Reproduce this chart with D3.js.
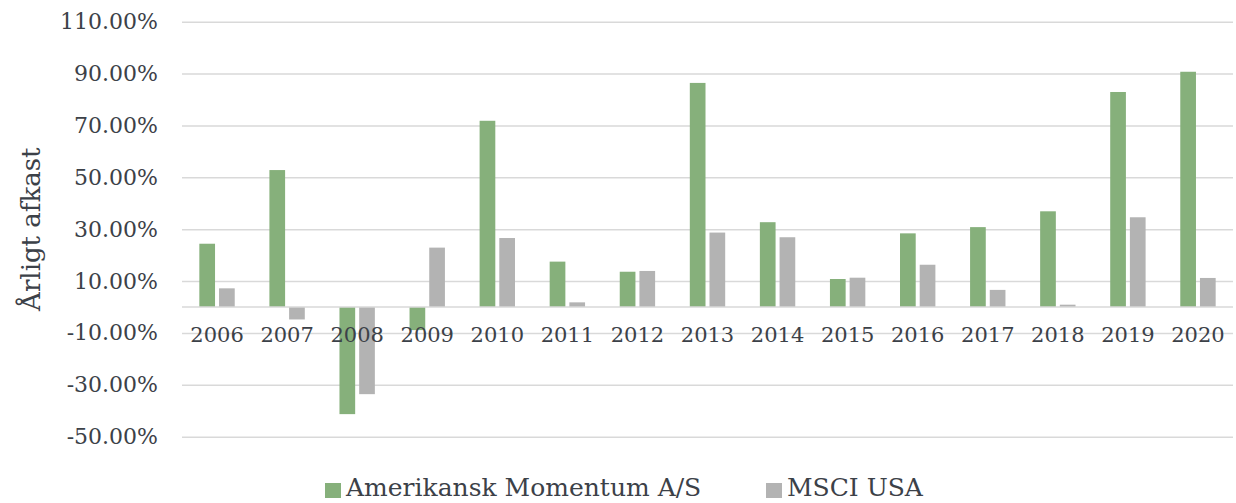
<!DOCTYPE html>
<html><head><meta charset="utf-8">
<script src="https://cdn.jsdelivr.net/npm/d3@7"></script>
<style>body{margin:0;background:#fff}</style>
</head><body>
<svg id="c" width="1236" height="503"></svg>
<script>
const years = ["2006","2007","2008","2009","2010","2011","2012","2013","2014","2015","2016","2017","2018","2019","2020"];
const momentum = [24.4,52.8,-41.3,-8.9,71.8,17.5,13.6,86.4,32.7,10.8,28.4,30.8,36.9,82.9,90.7];
const msci = [7.2,-4.8,-33.6,22.9,26.6,1.8,13.9,28.7,26.9,11.3,16.3,6.6,0.9,34.6,11.2];
const yTicks = [-50,-30,-10,10,30,50,70,90,110];
const seriesNames = ["Amerikansk Momentum A/S","MSCI USA"];
const colors = ["#86b07b","#b3b3b3"];

const font = "DejaVu Serif";
const textColor = "#3c4148";
const svg = d3.select("#c");
const L = 182, R = 1233, T = 21.7, B = 436.7;
const x = d3.scaleBand().domain(years).range([L, R]).paddingInner(0).paddingOuter(0);
const y = d3.scaleLinear().domain([-50,110]).range([B, T]);

// gridlines
const yAxis = d3.axisLeft(y).tickValues(yTicks).tickSize(-(R-L)).tickFormat(d => d.toFixed(2) + "%").tickPadding(24);
const gy = svg.append("g").attr("transform", `translate(${L},0)`).call(yAxis);
gy.select(".domain").remove();
gy.selectAll(".tick line").attr("stroke", "#d9d9d9").attr("stroke-width", 1.5);
gy.selectAll(".tick text").attr("font-family", font).attr("font-size", 22).attr("fill", textColor);

// bars
const bw = x.bandwidth() * 0.224, gap = x.bandwidth() * 0.057;
const data = [momentum, msci];
data.forEach((vals, si) => {
  svg.append("g").selectAll("rect").data(vals).join("rect")
    .attr("x", (d, i) => x(years[i]) + x.bandwidth()/2 + (si === 0 ? -gap/2 - bw : gap/2))
    .attr("width", bw)
    .attr("y", d => y(Math.max(0, d)))
    .attr("height", d => Math.abs(y(d) - y(0)))
    .attr("fill", colors[si]);
});

// zero axis line
svg.append("line").attr("x1", L).attr("x2", R).attr("y1", y(0)).attr("y2", y(0))
  .attr("stroke", "#d9d9d9").attr("stroke-width", 1.5);

// category labels
const xAxis = d3.axisBottom(x).tickSize(0).tickPadding(0);
const gx = svg.append("g").attr("transform", `translate(0,${y(0)})`).call(xAxis);
gx.select(".domain").remove();
gx.selectAll(".tick text").attr("font-family", font).attr("font-size", 21).attr("fill", textColor)
  .attr("dy", null).attr("y", 35);

// y title
svg.append("text").attr("transform", `translate(40,${(T+B)/2}) rotate(-90)`)
  .attr("text-anchor", "middle").attr("font-family", font).attr("font-size", 26).attr("fill", textColor)
  .text("Årligt afkast");

// legend
const lg = svg.append("g");
const legendX = [325, 766];
seriesNames.forEach((n, i) => {
  lg.append("rect").attr("x", legendX[i]).attr("y", 483).attr("width", 16).attr("height", 15).attr("fill", colors[i]);
  lg.append("text").attr("x", legendX[i] + 21).attr("y", 496).attr("font-family", font).attr("font-size", 25)
    .attr("fill", textColor).text(n);
});
</script>
</body></html>
